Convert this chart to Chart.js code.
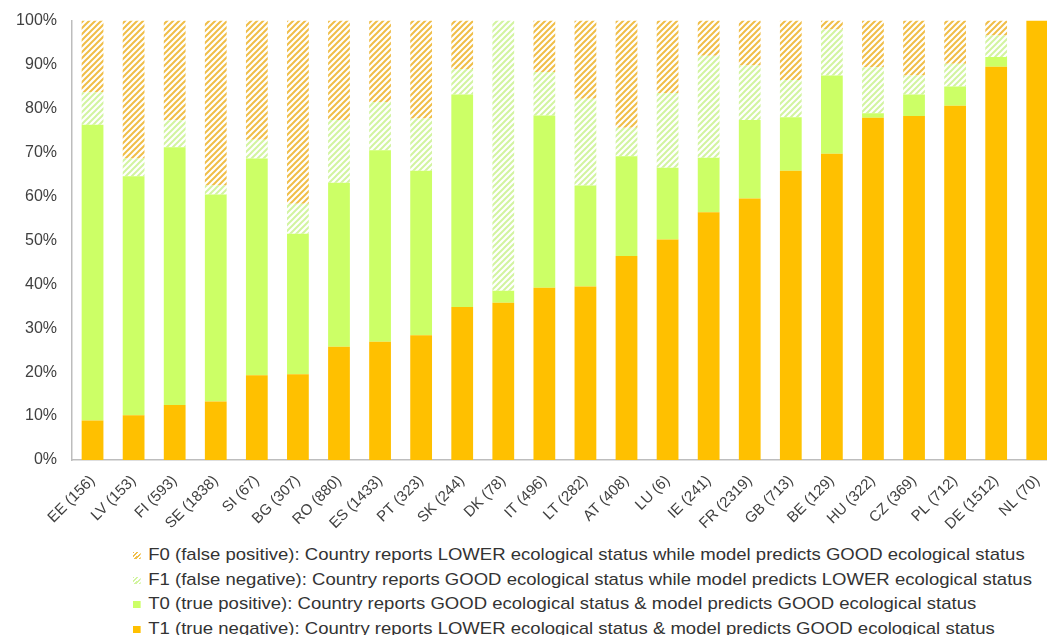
<!doctype html>
<html>
<head>
    <title>Ecological status agreement</title>
    <script src="https://cdn.jsdelivr.net/npm/chart.js"></script>
    <style>
        html, body {
            margin: 0;
            padding: 0;
            background: #fff;
            overflow: hidden;
        }
        #wrap {
            position: relative;
            width: 1062px;
            height: 544px;
            margin-top: -4px;
        }
        #legend {
            position: absolute;
            left: 133px;
            top: 543px;
            font-family: "Liberation Sans", Arial, sans-serif;
            font-size: 17px;
            color: #333;
            transform: scaleX(1.09);
            transform-origin: 0 0;
        }
        .item {
            height: 24.6px;
            line-height: 24.6px;
            white-space: nowrap;
        }
        .mark {
            display: inline-block;
            width: 7px;
            height: 7px;
            margin-right: 7px;
            vertical-align: 1px;
        }
    </style>
</head>
<body>
    <div id="wrap"><canvas id="chart"></canvas></div>
    <div id="legend"></div>

    <script>
        const countries = ['EE (156)', 'LV (153)', 'FI (593)', 'SE (1838)', 'SI (67)', 'BG (307)', 'RO (880)', 'ES (1433)',
            'PT (323)', 'SK (244)', 'DK (78)', 'IT (496)', 'LT (282)', 'AT (408)', 'LU (6)', 'IE (241)', 'FR (2319)',
            'GB (713)', 'BE (129)', 'HU (322)', 'CZ (369)', 'PL (712)', 'DE (1512)', 'NL (70)'];

        // shares in %, stacked bottom to top: T1, T0, F1, F0
        const t1 = [9.0, 10.2, 12.5, 13.3, 19.3, 19.5, 25.8, 26.9, 28.4, 34.8, 35.8, 39.2, 39.5, 46.4, 50.2, 56.4, 59.5, 65.8, 69.7, 77.9, 78.3, 80.6, 89.5, 100];
        const t0 = [67.3, 54.4, 58.7, 47.1, 49.3, 32.0, 37.3, 43.6, 37.4, 48.4, 2.7, 39.2, 23.0, 22.7, 16.3, 12.4, 17.9, 12.2, 17.8, 1.0, 4.9, 4.4, 2.2, 0];
        const f1 = [7.4, 4.0, 6.1, 2.1, 4.3, 6.8, 14.3, 11.0, 11.9, 5.8, 61.5, 9.9, 19.7, 6.5, 17.0, 23.2, 12.4, 8.5, 10.5, 10.5, 4.3, 5.2, 4.9, 0];
        const f0 = [16.3, 31.4, 22.7, 37.5, 27.1, 41.7, 22.6, 18.5, 22.3, 11.0, 0, 11.7, 17.8, 24.4, 16.5, 8.0, 10.2, 13.5, 2.0, 10.6, 12.5, 9.8, 3.4, 0];

        const legendLabels = [
            'F0 (false positive): Country reports LOWER ecological status while model predicts GOOD ecological status',
            'F1 (false negative): Country reports GOOD ecological status while model predicts LOWER ecological status',
            'T0 (true positive): Country reports GOOD ecological status & model predicts GOOD ecological status',
            'T1 (true negative): Country reports LOWER ecological status & model predicts GOOD ecological status'
        ];

        function hatch(color) {
            const c = document.createElement('canvas');
            c.width = 6;
            c.height = 6;
            const g = c.getContext('2d');
            g.fillStyle = '#fff';
            g.fillRect(0, 0, 6, 6);
            g.strokeStyle = color;
            g.lineWidth = 2;
            g.beginPath();
            g.moveTo(-1, 7); g.lineTo(7, -1);
            g.moveTo(-4, 4); g.lineTo(4, -4);
            g.moveTo(2, 10); g.lineTo(10, 2);
            g.stroke();
            return c;
        }

        const orangeHatch = hatch('#F0BE48');
        const greenHatch = hatch('#D2F4A0');
        const ctx = document.getElementById('chart').getContext('2d');

        const common = { barPercentage: 0.53, categoryPercentage: 1, borderWidth: 0 };

        new Chart(ctx, {
            type: 'bar',
            data: {
                labels: countries,
                datasets: [
                    { label: 'T1', data: t1, backgroundColor: '#FFC000', ...common },
                    { label: 'T0', data: t0, backgroundColor: '#CCFF66', ...common },
                    { label: 'F1', data: f1, backgroundColor: ctx.createPattern(greenHatch, 'repeat'), ...common },
                    { label: 'F0', data: f0, backgroundColor: ctx.createPattern(orangeHatch, 'repeat'), ...common }
                ]
            },
            options: {
                responsive: true,
                maintainAspectRatio: false,
                animation: false,
                layout: { padding: { top: 12, right: 1, left: 0, bottom: 0 } },
                plugins: {
                    legend: { display: false },
                    tooltip: { enabled: false }
                },
                scales: {
                    x: {
                        stacked: true,
                        grid: { display: false, drawTicks: false },
                        border: { color: '#BDBDBD', width: 1.5 },
                        ticks: {
                            minRotation: 45,
                            maxRotation: 45,
                            padding: 12,
                            color: '#404040',
                            font: { family: 'Liberation Sans, Arial, sans-serif', size: 15 }
                        },
                        afterFit: s => { s.height = 80; }
                    },
                    y: {
                        stacked: true,
                        min: 0,
                        max: 100,
                        grid: { display: false, drawTicks: false },
                        border: { color: '#BDBDBD', width: 1.5 },
                        ticks: {
                            stepSize: 10,
                            padding: 15,
                            color: '#404040',
                            font: { family: 'Liberation Sans, Arial, sans-serif', size: 16 },
                            callback: v => v + '%'
                        },
                        afterFit: s => { s.width = 72; }
                    }
                }
            }
        });

        // legend below the chart, top item first as in the original
        const marks = [
            'repeating-linear-gradient(-45deg, #F0BE48 0 1.5px, #fff 1.5px 3px)',
            'repeating-linear-gradient(-45deg, #D2F4A0 0 1.5px, #fff 1.5px 3px)',
            '#CCFF66',
            '#FFC000'
        ];
        const legend = document.getElementById('legend');
        legendLabels.forEach((txt, i) => {
            const row = document.createElement('div');
            row.className = 'item';
            const m = document.createElement('span');
            m.className = 'mark';
            m.style.background = marks[i];
            row.appendChild(m);
            row.appendChild(document.createTextNode(txt));
            legend.appendChild(row);
        });
    </script>
</body>
</html>
